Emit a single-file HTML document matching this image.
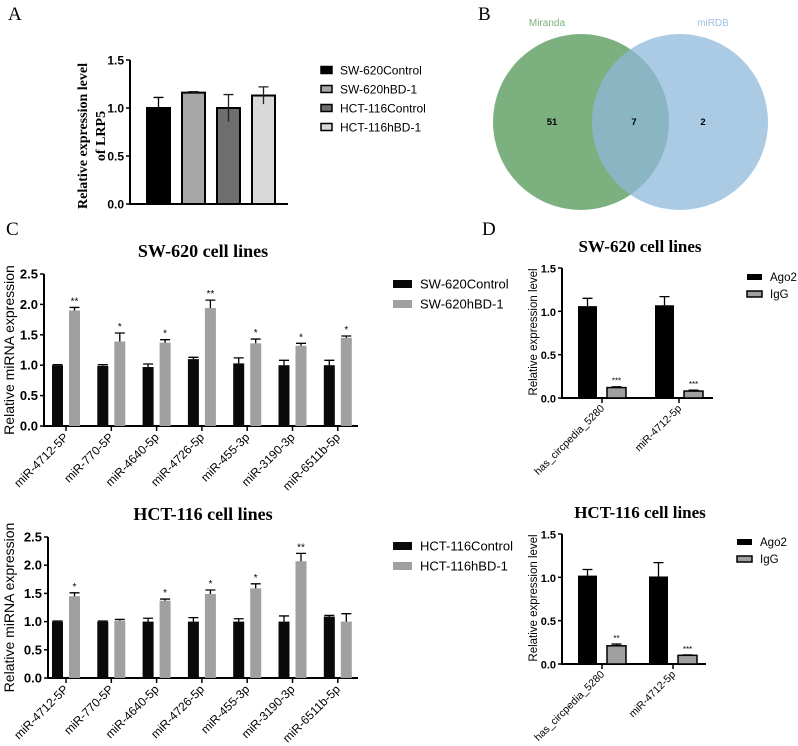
<!DOCTYPE html>
<html><head><meta charset="utf-8"><style>
html,body{margin:0;padding:0;background:#fff;}
svg{display:block;}
.ar{font-family:"Liberation Sans",Arial,sans-serif;}
.tm{font-family:"Liberation Serif","Times New Roman",serif;}
</style></head><body>
<svg id="fig" width="798" height="746" viewBox="0 0 798 746" xmlns="http://www.w3.org/2000/svg">
<text class="tm" x="8" y="20" font-size="19">A</text>
<text class="tm" x="478" y="20" font-size="19">B</text>
<text class="tm" x="6" y="235" font-size="19">C</text>
<text class="tm" x="482" y="235" font-size="19">D</text>

<g>
<circle cx="581" cy="122" r="88" fill="#6aa56d" fill-opacity="0.88"/>
<circle cx="680" cy="122" r="88" fill="#8fb8da" fill-opacity="0.75"/>
<text class="ar" x="547" y="26" font-size="10" fill="#7ab07c" text-anchor="middle">Miranda</text>
<text class="ar" x="713" y="26" font-size="10" fill="#9cc0e0" text-anchor="middle">miRDB</text>
<text class="ar" x="552" y="125" font-size="9.5" font-weight="bold" text-anchor="middle">51</text>
<text class="ar" x="634" y="125" font-size="9.5" font-weight="bold" text-anchor="middle">7</text>
<text class="ar" x="703" y="125" font-size="9.5" font-weight="bold" text-anchor="middle">2</text>
</g>
<g id="charts"></g>
</svg>
<script>
// Panel A
const aCats = ["SW-620Control","SW-620hBD-1","HCT-116Control","HCT-116hBD-1"];
const aVals = [1.0,1.16,1.0,1.13];
const aErr = [0.11,0.01,0.14,0.09];
const aTicks = [0,0.5,1.0,1.5];
// Panel C
const cCats = ["miR-4712-5P","miR-770-5P","miR-4640-5p","miR-4726-5p","miR-455-3p","miR-3190-3p","miR-6511b-5p"];
const swCtrl = [1.0,0.99,0.97,1.10,1.03,1.0,1.0];
const swCtrlErr = [0.01,0.02,0.05,0.03,0.09,0.08,0.08];
const swHbd = [1.90,1.39,1.37,1.94,1.36,1.32,1.45];
const swHbdErr = [0.05,0.14,0.05,0.13,0.07,0.04,0.03];
const swStars = ["**","*","*","**","*","*","*"];
const hctCtrl = [1.0,1.0,1.0,1.0,1.0,1.0,1.09];
const hctCtrlErr = [0.01,0.01,0.06,0.07,0.05,0.10,0.02];
const hctHbd = [1.45,1.02,1.37,1.49,1.59,2.07,1.0];
const hctHbdErr = [0.06,0.02,0.03,0.07,0.08,0.14,0.14];
const hctStars = ["*","","*","*","*","**",""];
const cTicks = [0,0.5,1.0,1.5,2.0,2.5];
// Panel D
const dCats = ["has_circpedia_5280","miR-4712-5p"];
const swAgo = [1.06,1.07];
const swAgoErr = [0.09,0.10];
const swIgg = [0.12,0.08];
const swIggErr = [0.01,0.01];
const swDStars = ["***","***"];
const hctAgo = [1.02,1.01];
const hctAgoErr = [0.07,0.16];
const hctIgg = [0.21,0.10];
const hctIggErr = [0.02,0.005];
const hctDStars = ["**","***"];
const dTicks = [0,0.5,1.0,1.5];

const NS="http://www.w3.org/2000/svg";
const root=document.getElementById('charts');
function mk(tag,attrs,parent,text){const e=document.createElementNS(NS,tag);for(const k in attrs)e.setAttribute(k,attrs[k]);if(text!==undefined)e.textContent=text;(parent||root).appendChild(e);return e;}

function axes(g,o){
  const ys=v=>o.y0-(v-0)*(o.y0-o.yTop)/o.ymax;
  const ax=mk('line',{x1:o.ax,y1:o.yTop,x2:o.ax,y2:o.y0+1,stroke:'#000','stroke-width':2},g);
  
  
  const bx=mk('line',{x1:o.ax-1,y1:o.y0,x2:o.xEnd,y2:o.y0,stroke:'#000','stroke-width':2},g);
  
  
  o.ticks.forEach(t=>{
    mk('line',{x1:o.ax-4,y1:ys(t),x2:o.ax,y2:ys(t),stroke:'#000','stroke-width':1.5},g);
    const tl=mk('text',{x:o.ax-6,y:ys(t)+4.5,'font-size':o.tfs,'font-weight':'bold','text-anchor':'end',class:'ar'},g,t.toFixed(1));
    
    
  });
  return ys;
}
function bar(g,x,w,v,e,ys,fill,stroke,both,name){
  const r=mk('rect',{x:x,y:ys(v),width:w,height:ys(0)-ys(v),fill:fill},g);
  if(stroke){r.setAttribute('stroke','#000');r.setAttribute('stroke-width',stroke);}
  
  
  const cx=x+w/2, lo=both?v-e:v;
  const eb=mk('path',{d:`M${cx},${ys(lo)}V${ys(v+e)}M${cx-5},${ys(v+e)}H${cx+5}`,stroke:'#000','stroke-width':1.3,fill:'none'},g);
  if(both) eb.setAttribute('stroke',fill==='#000'?'#000':'#222');
  
  
  return ys(v+e);
}
function xlabel(g,x,y,t,fs){
  const l=mk('text',{x:x,y:y,'font-size':fs,'text-anchor':'end',class:'ar',transform:`rotate(-45 ${x} ${y})`},g,t);
  
  
}
function legend(g,x,y,items,sw,sh,gap,fs){
  items.forEach((it,i)=>{
    const r=mk('rect',{x:x,y:y+i*gap-sh/2,width:sw,height:sh,fill:it[1]},g);
    if(it[2]){r.setAttribute('stroke','#000');r.setAttribute('stroke-width',1.5);}
    
    
    const t=mk('text',{x:x+sw+8,y:y+i*gap+fs*0.36,'font-size':fs,class:'ar'},g,it[0]);
    
    
  });
}

// ---- Panel A
(function(){
  const g=mk('g',{});
  
  
  const ys=axes(g,{ax:130,y0:204,yTop:60,ymax:1.5,xEnd:288,ticks:aTicks,tfs:12});
  const fills=['#000','#a6a6a6','#6e6e6e','#d9d9d9'];
  aVals.forEach((v,i)=>{const cx=158.5+i*35;bar(g,cx-11.5,23,v,aErr[i],ys,fills[i],2,true,'bar-a-'+i);});
  const yl=mk('text',{class:'tm','font-size':14,'font-weight':'bold','text-anchor':'middle',transform:'translate(87 136) rotate(-90)'},g,'Relative  expression level');
  
  
  const yl2=mk('text',{class:'tm','font-size':14,'font-weight':'bold','text-anchor':'middle',transform:'translate(105 136) rotate(-90)'},g,'of LRP5');
  
  
  legend(g,321,70,aCats.map((c,i)=>[c,fills[i],true]),11,7,19,12);
})();

// ---- Panel C
function panelC(name,title,ty,y0,yTop,ax,ctrl,ctrlE,hbd,hbdE,stars,legNames,legY){
  const g=mk('g',{});
  
  
  const tt=mk('text',{x:203,y:ty,class:'tm','font-size':18,'font-weight':'bold','text-anchor':'middle'},g,title);
  
  
  const ys=axes(g,{ax:ax,y0:y0,yTop:yTop,ymax:2.5,xEnd:358,ticks:cTicks,tfs:13});
  cCats.forEach((c,i)=>{
    const t=66+i*45.3;
    bar(g,t-14,11,ctrl[i],ctrlE[i],ys,'#0a0a0a',0,false,'bar-control-'+i);
    const top=bar(g,t+3,11,hbd[i],hbdE[i],ys,'#a0a0a0',0,false,'bar-hbd1-'+i);
    if(stars[i]){const s=mk('text',{x:t+8.5,y:top-3,'font-size':10,'text-anchor':'middle',class:'ar'},g,stars[i]);
      
      }
    mk('line',{x1:t,y1:y0,x2:t,y2:y0+5,stroke:'#000','stroke-width':1.5},g);
    xlabel(g,t+3,y0+12,c,12);
  });
  const yl=mk('text',{class:'ar','font-size':14,'text-anchor':'middle',transform:`translate(14 ${(y0+yTop)/2}) rotate(-90)`},g,'Relative miRNA expression');
  
  
  legend(g,393,legY,[[legNames[0],'#0a0a0a'],[legNames[1],'#a0a0a0']],19,8,20,13);
}
panelC('panel-c-sw620-chart','SW-620 cell lines',257,426,274,44,swCtrl,swCtrlErr,swHbd,swHbdErr,swStars,['SW-620Control','SW-620hBD-1'],284);
panelC('panel-c-hct116-chart','HCT-116 cell lines',520,678,537,48,hctCtrl,hctCtrlErr,hctHbd,hctHbdErr,hctStars,['HCT-116Control','HCT-116hBD-1'],546);

// ---- Panel D
function panelD(name,title,ty,y0,xEnd,ticksX,ago,agoE,igg,iggE,stars,legX,legY){
  const g=mk('g',{});
  
  
  const tt=mk('text',{x:640,y:ty,class:'tm','font-size':17,'font-weight':'bold','text-anchor':'middle'},g,title);
  
  
  const ys=axes(g,{ax:562,y0:y0,yTop:y0-130,ymax:1.5,xEnd:xEnd,ticks:dTicks,tfs:11});
  dCats.forEach((c,i)=>{
    const t=ticksX[i];
    bar(g,t-24,19,ago[i],agoE[i],ys,'#000',0,false,'bar-ago2-'+i);
    const top=bar(g,t+5,19,igg[i],iggE[i],ys,'#a0a0a0',1.5,false,'bar-igg-'+i);
    const s=mk('text',{x:t+14.5,y:top-3,'font-size':8,'text-anchor':'middle',class:'ar'},g,stars[i]);
    
    
    mk('line',{x1:t,y1:y0,x2:t,y2:y0+5,stroke:'#000','stroke-width':1.5},g);
    xlabel(g,t+3,y0+11,c,10.5);
  });
  const yl=mk('text',{class:'ar','font-size':11.5,'text-anchor':'middle',transform:`translate(537 ${y0-66}) rotate(-90)`},g,'Relative expression level');
  
  
  legend(g,legX,legY,[['Ago2','#000'],['IgG','#a0a0a0',true]],15,6,17,11.5);
}
panelD('panel-d-sw620-chart','SW-620 cell lines',252,398,713,[602,679],swAgo,swAgoErr,swIgg,swIggErr,swDStars,747,277);
panelD('panel-d-hct116-chart','HCT-116 cell lines',518,664,706,[602,673],hctAgo,hctAgoErr,hctIgg,hctIggErr,hctDStars,737,542);
</script>
</body></html>
